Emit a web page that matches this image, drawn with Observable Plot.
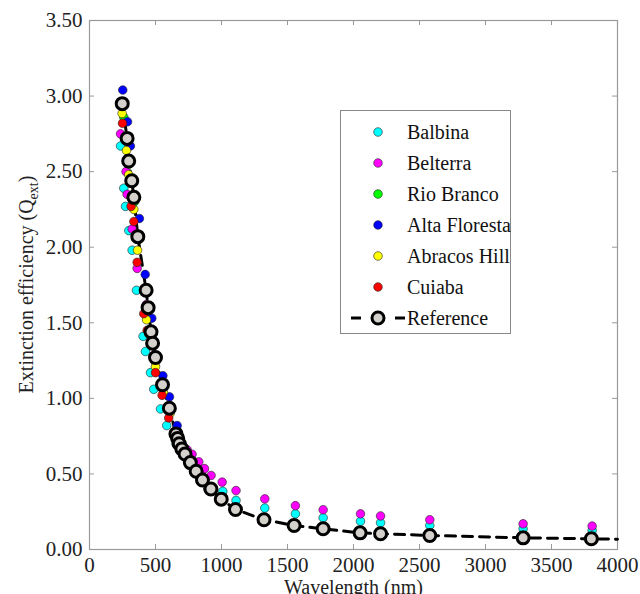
<!DOCTYPE html>
<html>
<head>
<meta charset="utf-8">
<script src="https://cdn.jsdelivr.net/npm/d3@7"></script>
<script src="https://cdn.jsdelivr.net/npm/@observablehq/plot@0.6"></script>
<style>
  body { margin: 0; background: #fff; }
  #wrap { position: relative; width: 640px; height: 594px; font-family: "Liberation Serif", "Tinos", "Times New Roman", "DejaVu Serif", serif; }
  #legend { position: absolute; left: 340px; top: 110px; width: 171px; height: 224px; border: 1px solid #888; background: #fff; box-sizing: border-box; }
  .row { position: absolute; left: 0; height: 24px; display: flex; align-items: center; font-size: 20px; color: #111; white-space: nowrap; }
  .row svg { display: block; flex: none; }
</style>
</head>
<body>
<div id="wrap"></div>
<script>
// ---------------- data ----------------
const sites = ["Balbina", "Belterra", "Rio Branco", "Alta Floresta", "Abracos Hill", "Cuiaba"];
const siteColors = ["#00ffff", "#ff00ff", "#00ff00", "#0000ff", "#ffff00", "#ff0000"];

const balbinaWl = [235, 260, 273, 298, 323, 356, 406, 424, 462, 487, 538, 585, 655, 700, 760, 810, 860, 920, 1010, 1110, 1328, 1560, 1770, 2053, 2205, 2578, 3285, 3808];
const balbinaQ  = [2.67, 2.39, 2.27, 2.11, 1.98, 1.715, 1.41, 1.31, 1.17, 1.06, 0.93, 0.82, 0.70, 0.64, 0.56, 0.50, 0.45, 0.40, 0.385, 0.325, 0.274, 0.236, 0.21, 0.187, 0.177, 0.159, 0.137, 0.126];

const belterraWl = [235, 277, 285, 323, 361, 430, 470, 500, 550, 600, 660, 700, 740, 777, 828, 871, 921, 1005, 1110, 1328, 1560, 1770, 2053, 2205, 2578, 3285, 3808];
const belterraQ  = [2.75, 2.50, 2.35, 2.12, 1.86, 1.62, 1.40, 1.24, 1.07, 0.92, 0.78, 0.70, 0.66, 0.63, 0.58, 0.535, 0.49, 0.446, 0.39, 0.335, 0.29, 0.263, 0.236, 0.222, 0.197, 0.17, 0.155];

const rioBrancoWl = [260, 300, 340, 370, 440, 500, 560, 650, 700, 800, 900, 1000];
const rioBrancoQ  = [2.86, 2.55, 2.30, 2.05, 1.60, 1.26, 1.07, 0.77, 0.66, 0.51, 0.40, 0.33];

const altaFlorestaWl = [252, 288, 310, 378, 422, 472, 556, 606, 664, 720, 800, 900, 1005];
const altaFlorestaQ  = [3.04, 2.83, 2.67, 2.19, 1.82, 1.53, 1.15, 1.01, 0.82, 0.65, 0.52, 0.41, 0.34];

const abracosWl = [247, 280, 297, 336, 364, 432, 500, 560, 610, 670, 720, 800, 900, 1000];
const abracosQ  = [2.885, 2.64, 2.48, 2.25, 1.98, 1.52, 1.21, 1.04, 0.90, 0.74, 0.64, 0.51, 0.40, 0.33];

const cuiabaWl = [250, 315, 336, 361, 411, 437, 500, 550, 600, 660, 720, 800, 900, 1000];
const cuiabaQ  = [2.82, 2.27, 2.17, 1.90, 1.56, 1.45, 1.17, 1.02, 0.87, 0.75, 0.64, 0.51, 0.40, 0.33];

const refWl = [248, 285, 297, 320, 336, 366, 429, 444, 466, 478, 500, 553, 605, 655, 668, 680, 700, 724, 764, 808, 856, 920, 998, 1106, 1322, 1550, 1770, 2050, 2205, 2578, 3285, 3802];
const refQ  = [2.95, 2.72, 2.57, 2.44, 2.33, 2.07, 1.715, 1.60, 1.44, 1.365, 1.27, 1.09, 0.935, 0.765, 0.735, 0.70, 0.665, 0.632, 0.575, 0.518, 0.46, 0.40, 0.333, 0.265, 0.197, 0.159, 0.137, 0.11, 0.104, 0.093, 0.077, 0.071];
// dashed reference line continues to the right edge
const refLineEndWl = 4000;
const refLineEndQ = 0.068;

const xTicks = [0, 500, 1000, 1500, 2000, 2500, 3000, 3500, 4000];
const yTicks = [0, 0.5, 1, 1.5, 2, 2.5, 3, 3.5];
const xLabel = "Wavelength (nm)";
const yLabelMain = "Extinction efficiency (Q";
const yLabelSub = "ext";
const yLabelEnd = ")";

// ---------------- build ----------------
const siteWl = [balbinaWl, belterraWl, rioBrancoWl, altaFlorestaWl, abracosWl, cuiabaWl];
const siteQ = [balbinaQ, belterraQ, rioBrancoQ, altaFlorestaQ, abracosQ, cuiabaQ];
const siteRows = sites.flatMap((s, i) => siteWl[i].map((w, j) => ({site: s, wl: w, q: siteQ[i][j]})));
const refRows = refWl.map((w, j) => ({wl: w, q: refQ[j]}));
const refLineRows = [...refRows, {wl: refLineEndWl, q: refLineEndQ}];

const W = 640, H = 594, mL = 89, mR = 23, mT = 20, mB = 45;
const fw = W - mL - mR, fh = H - mT - mB, tk = 5;
const axisColor = "#999";
const serif = "'Liberation Serif', 'Tinos', 'Times New Roman', 'DejaVu Serif', serif";

const plot = Plot.plot({
  width: W, height: H,
  marginLeft: mL, marginRight: mR, marginTop: mT, marginBottom: mB,
  style: {fontFamily: serif, fontSize: "21px", color: "#222", background: "#fff", overflow: "visible"},
  x: {domain: [0, 4000], ticks: xTicks, tickSize: 0, tickPadding: 8, tickFormat: d => String(d), label: null},
  y: {domain: [0, 3.5], ticks: yTicks, tickSize: 0, tickPadding: 7, tickFormat: d3.format(".2f"), label: null},
  color: {domain: sites, range: siteColors},
  marks: [
    Plot.frame({stroke: axisColor, strokeWidth: 1.2}),
    Plot.tickY(yTicks, {y: d => d, stroke: axisColor, insetRight: fw - tk}),
    Plot.tickY(yTicks, {y: d => d, stroke: axisColor, insetLeft: fw - tk}),
    Plot.tickX(xTicks, {x: d => d, stroke: axisColor, insetTop: fh - tk}),
    Plot.tickX(xTicks, {x: d => d, stroke: axisColor, insetBottom: fh - tk}),
    Plot.line(refLineRows, {x: "wl", y: "q", stroke: "#000", strokeWidth: 3, strokeDasharray: "10,7"}),
    Plot.dot(siteRows, {x: "wl", y: "q", fill: "site", r: 4.3, stroke: "#222", strokeWidth: 0.6}),
    Plot.dot(refRows, {x: "wl", y: "q", r: 6, fill: "#d4d0cb", stroke: "#000", strokeWidth: 3}),
    Plot.text([xLabel], {frameAnchor: "bottom", dy: 44, fontSize: 20, fill: "#222"})
  ]
});

const wrap = document.getElementById("wrap");
wrap.appendChild(plot);

// y label with subscript
const svg = d3.select(plot);
const yl = svg.append("text")
  .attr("transform", `translate(33,${mT + fh / 2}) rotate(-90)`)
  .attr("text-anchor", "middle")
  .attr("font-size", 20)
  .attr("font-family", serif)
  .attr("fill", "#222");
yl.append("tspan").text(yLabelMain);
yl.append("tspan").attr("font-size", 14).attr("dy", 5).text(yLabelSub);
yl.append("tspan").attr("dy", -5).text(yLabelEnd);

// legend
const legend = document.createElement("div");
legend.id = "legend";
sites.forEach((s, i) => {
  const row = document.createElement("div");
  row.className = "row";
  row.style.top = (9 + i * 31) + "px";
  row.innerHTML = `<svg width="66" height="24"><circle cx="37" cy="12" r="4.3" fill="${siteColors[i]}" stroke="#222" stroke-width="0.6"/></svg><span>${s}</span>`;
  legend.appendChild(row);
});
const rrow = document.createElement("div");
rrow.className = "row";
rrow.style.top = (9 + 6 * 31) + "px";
rrow.innerHTML = `<svg width="66" height="24"><line x1="10" x2="64" y1="12" y2="12" stroke="#000" stroke-width="3" stroke-dasharray="10,34"/><circle cx="37" cy="12" r="6" fill="#d4d0cb" stroke="#000" stroke-width="3"/></svg><span>Reference</span>`;
legend.appendChild(rrow);
wrap.appendChild(legend);
</script>
</body>
</html>
